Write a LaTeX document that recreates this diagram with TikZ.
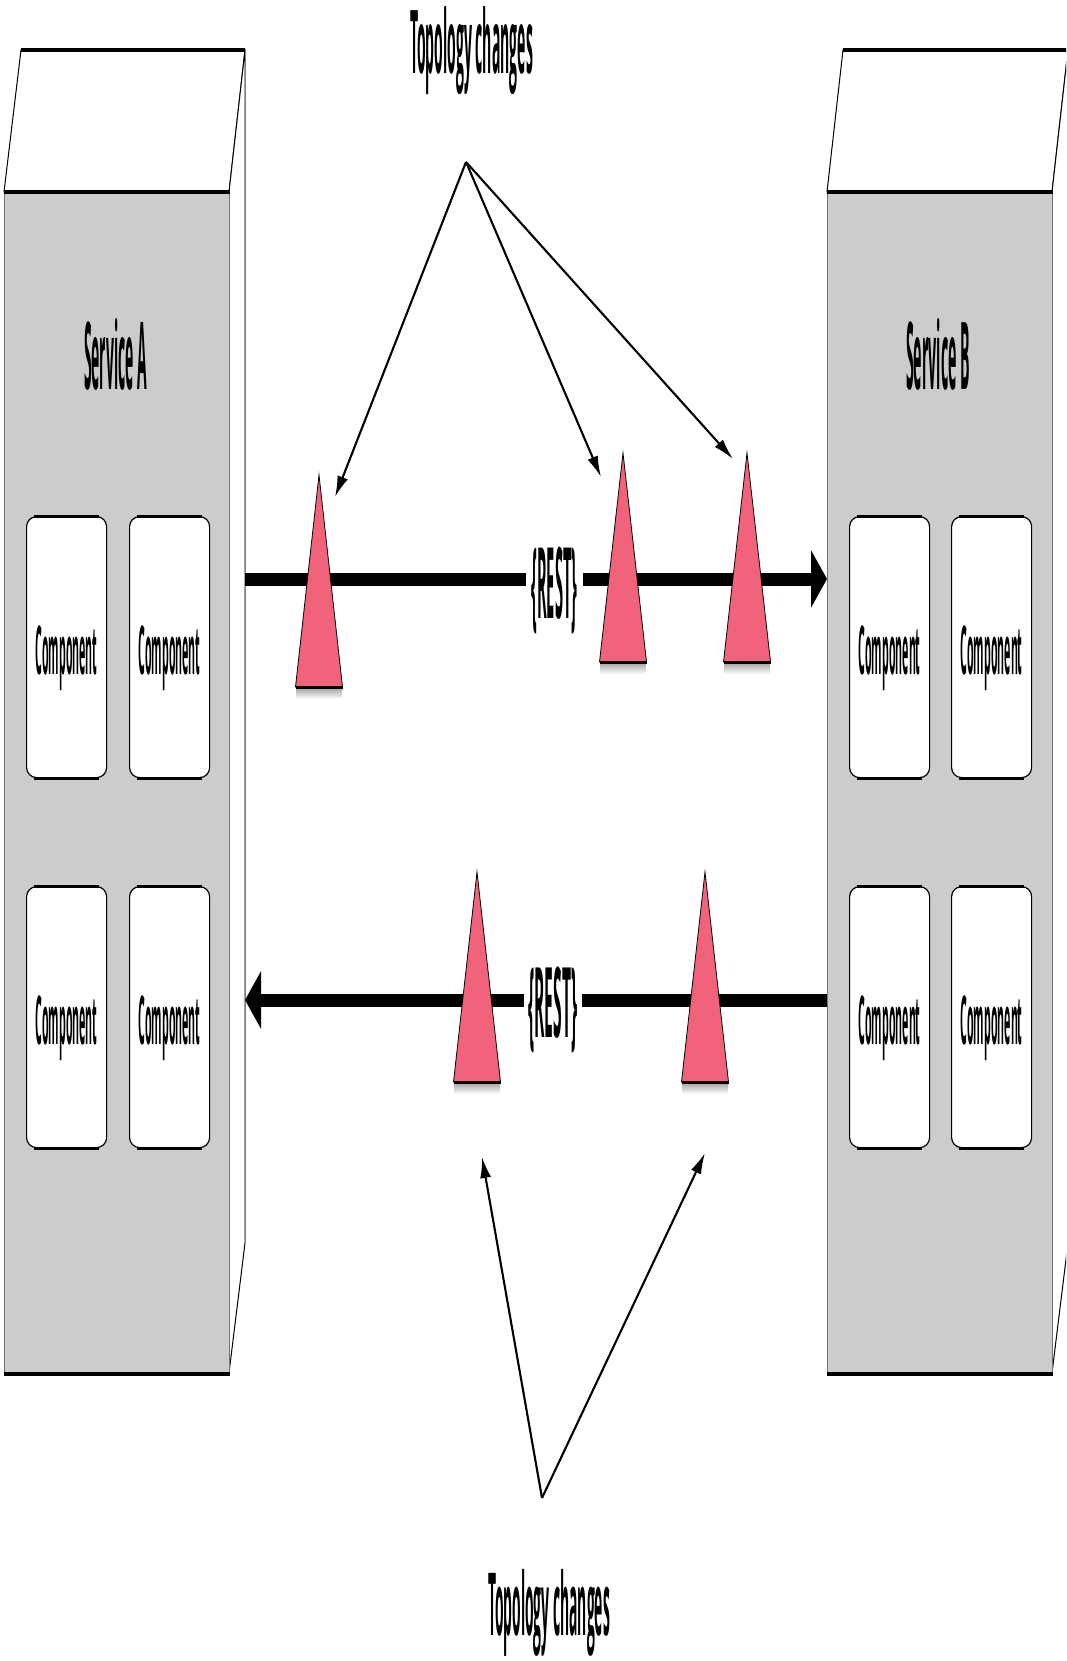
\documentclass[tikz,border=0pt]{standalone}
\usepackage{fontspec}
\setmainfont{Open Sans}
\usetikzlibrary{arrows.meta}
\definecolor{pinkc}{RGB}{241,99,122}
\definecolor{panel}{RGB}{204,204,204}
\newcommand\sqz[3]{\resizebox*{#1pt}{#2pt}{\bfseries #3}}
\newcommand\conedraw[3]{%
  \shade[top color=black!35,bottom color=white] (#1-23,#3+1) rectangle (#1+23,#3+12);
  \draw[cone] (#1,#2) -- (#1-23.5,#3) -- (#1+23.5,#3) -- cycle;
  \draw[line width=3pt] (#1-23.5,#3) -- (#1+23.5,#3);}
\begin{document}
\begin{tikzpicture}[x=1pt,y=-1pt,
  front/.style={fill=panel, draw=black!55, line width=1pt, inner sep=0pt},
  face/.style={fill=white, draw=black, line width=1pt},
  edge/.style={line width=4pt},
  comp/.style={draw=black, fill=white, line width=1.2pt, rounded corners=10pt, inner sep=0pt, minimum width=80pt, minimum height=261pt},
  pipe/.style={line width=13pt},
  lbl/.style={inner sep=0pt},
  cone/.style={fill=pinkc, draw=black, line width=0.8pt},
  pointer/.style={line width=2.1pt, -{Latex[length=21pt,width=11pt]}}]
\useasboundingbox (0,0) rectangle (1066,1661);
\clip (0,0) rectangle (1066,1661);

% ---- Service A box
\draw[face] (4,192) -- (21,50) -- (245,50) -- (229,192) -- cycle;
\draw[face] (229,192) -- (245,50) -- (245,1243) -- (229,1373) -- cycle;
\draw[black!50, line width=1pt] (245,50) -- (245,1243);
\node[front, minimum width=225pt, minimum height=1181pt, anchor=north west] (svcA) at (4,192) {};
\draw[edge] (21,50) -- (245,50);
\draw[edge] (svcA.north west) -- (svcA.north east);
\draw[edge] (svcA.south west) -- (svcA.south east);
\node[lbl] (tA) at (115.5,354) {\sqz{63}{72}{Service A}};

% ---- Service B box
\draw[face] (827,192) -- (843,50) -- (1068,50) -- (1052,192) -- cycle;
\draw[face] (1052,192) -- (1068,50) -- (1068,1243) -- (1052,1373) -- cycle;
\node[front, minimum width=225pt, minimum height=1181pt, anchor=north west] (svcB) at (827,192) {};
\draw[edge] (843,50) -- (1068,50);
\draw[edge] (svcB.north west) -- (svcB.north east);
\draw[edge] (svcB.south west) -- (svcB.south east);
\node[lbl] (tB) at (938,354) {\sqz{64}{72}{Service B}};

% ---- Components
\foreach \nm/\x/\y in {cA11/26/516, cA12/129/516, cA21/26/886, cA22/129/886,
                       cB11/849/516, cB12/951/516, cB21/849/886, cB22/951/886}{
  \node[comp, anchor=north west] (\nm) at (\x,\y) {};
  \draw[line width=3pt] ([xshift=8pt]\nm.north west) -- ([xshift=-8pt]\nm.north east);
  \draw[line width=3pt] ([xshift=8pt]\nm.south west) -- ([xshift=-8pt]\nm.south east);
  \node[lbl] (\nm t) at ([yshift=-11pt]\nm.center) {\sqz{62}{65}{Component}};
}

% ---- REST pipes
\coordinate (p1s) at (245,579);
\coordinate (p1e) at (827,579);
\draw[pipe, -{Triangle[length=16pt,width=57pt]}] (p1s) -- (p1e);
\node[lbl, fill=white, inner xsep=5.5pt] (r1) at (554.5,591) {\sqz{46}{87}{\{REST\}}};

\coordinate (p2s) at (827,1000);
\coordinate (p2e) at (245,1000);
\draw[pipe, -{Triangle[length=16pt,width=57pt]}] (p2s) -- (p2e);
\node[lbl, fill=white, inner xsep=4.5pt] (r2) at (553,1010) {\sqz{49}{86}{\{REST\}}};

% ---- Topology change markers
\conedraw{319}{475}{687}
\conedraw{623}{453}{662}
\conedraw{747}{453}{662}
\conedraw{477}{872}{1082}
\conedraw{705}{872}{1082}

% ---- Topology change labels and pointers
\node[lbl] (top) at (471.5,51) {\sqz{123}{88}{Topology changes}};
\node[lbl] (bot) at (549,1613) {\sqz{122}{87}{Topology changes}};
\coordinate (o1) at (466,162);
\coordinate (k1) at (335,497);
\coordinate (k2) at (601,477);
\coordinate (k3) at (733,459);
\draw[pointer] (o1) -- (k1);
\draw[pointer] (o1) -- (k2);
\draw[pointer] (o1) -- (k3);
\coordinate (o2) at (542,1498);
\coordinate (k4) at (482,1157);
\coordinate (k5) at (705,1153);
\draw[pointer] (o2) -- (k4);
\draw[pointer] (o2) -- (k5);
\end{tikzpicture}
\end{document}
